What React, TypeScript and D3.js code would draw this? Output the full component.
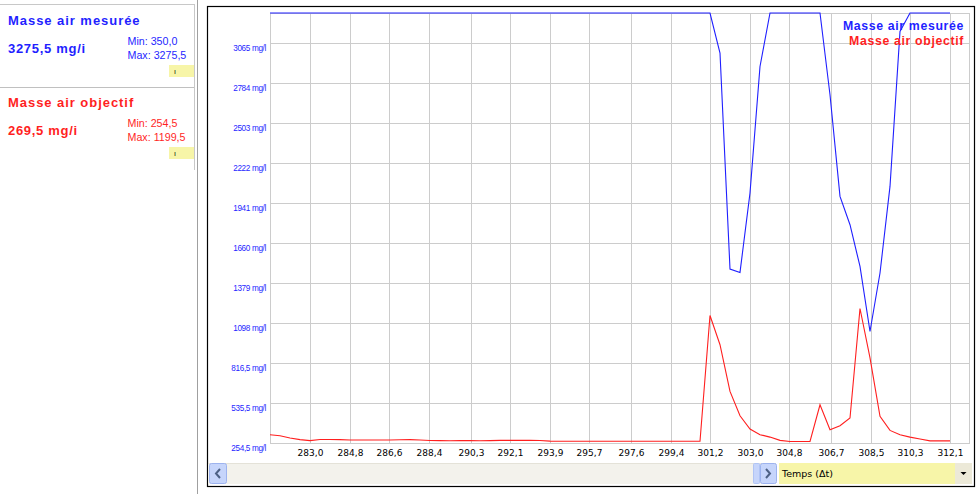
import React from 'react';
import * as d3 from 'd3';

// ---- data ----
const T0 = 281.18; // time of first sample (s)
const DT = 0.4547; // sample interval (s)

const measured = [
  3275.5, 3275.5, 3275.5, 3275.5, 3275.5, 3275.5, 3275.5, 3275.5, 3275.5, 3275.5,
  3275.5, 3275.5, 3275.5, 3275.5, 3275.5, 3275.5, 3275.5, 3275.5, 3275.5, 3275.5,
  3275.5, 3275.5, 3275.5, 3275.5, 3275.5, 3275.5, 3275.5, 3275.5, 3275.5, 3275.5,
  3275.5, 3275.5, 3275.5, 3275.5, 3275.5, 3275.5, 3275.5, 3275.5, 3275.5, 3275.5,
  3275.5, 3275.5, 3275.5, 3275.5, 3275.5, 2994, 1477, 1453, 2011, 2900,
  3275.5, 3275.5, 3275.5, 3275.5, 3275.5, 3275.5, 2701, 1987, 1788, 1495,
  1038, 1449, 2057, 3146, 3275.5, 3275.5, 3275.5, 3275.5, 3275.5,
];

const objective = [
  313, 306, 290, 278, 271, 279, 279, 278, 276, 276,
  276, 276, 276, 277, 278, 276, 272, 271, 270, 272,
  271, 270, 271, 273, 273, 274, 273, 272, 268, 267,
  267, 267, 267, 267, 267, 267, 267, 267, 267, 267,
  267, 267, 267, 267, 1150, 945, 617, 446, 353, 313,
  296, 273, 265, 265, 265, 523, 348, 376, 430, 1199.5,
  852, 442, 343, 313, 296, 283, 269.5, 269.5, 269.5,
];

const xTickValues = [283.0, 284.8, 286.6, 288.4, 290.3, 292.1, 293.9, 295.7, 297.6, 299.4, 301.2, 303.0, 304.8, 306.7, 308.5, 310.3, 312.1];
const xTickLabels = ['283,0', '284,8', '286,6', '288,4', '290,3', '292,1', '293,9', '295,7', '297,6', '299,4', '301,2', '303,0', '304,8', '306,7', '308,5', '310,3', '312,1'];

const yTickValues = [254.5, 535.5, 816.5, 1097.5, 1378.5, 1659.5, 1940.5, 2221.5, 2502.5, 2783.5, 3064.5];
const yTickLabels = ['254,5 mg/l', '535,5 mg/l', '816,5 mg/l', '1098 mg/l', '1379 mg/l', '1660 mg/l', '1941 mg/l', '2222 mg/l', '2503 mg/l', '2784 mg/l', '3065 mg/l'];

const seriesNames = ['Masse air mesurée', 'Masse air objectif'];
const currentValues = ['3275,5 mg/i', '269,5 mg/i'];
const minLabels = ['Min: 350,0', 'Min: 254,5'];
const maxLabels = ['Max: 3275,5', 'Max: 1199,5'];
const seriesColors = ['#1f1fff', '#ff1f1f'];

export default function App() {
  const W = 978;
  const H = 494;
  const plot = { left: 270, right: 969, top: 13, bottom: 443 };
  const x = d3.scaleLinear().domain([T0, T0 + (plot.right - plot.left) * (DT / 10)]).range([plot.left, plot.right]);
  const y = d3.scaleLinear().domain([254.5, 3275.5]).range([plot.bottom, plot.top]);
  const times = measured.map((_, i) => T0 + i * DT);
  const mk = (vals: number[]) =>
    d3.line<number>().x((_, i) => x(times[i])).y((d) => y(d))(vals) || '';

  const grid = '#cccccc';
  const sans = '"Liberation Sans", Arial, sans-serif';
  const dejavu = '"DejaVu Sans", Verdana, sans-serif';

  const panelTops = [0, 82];

  return (
    <svg width={W} height={H} style={{ position: 'absolute', left: 0, top: 0, background: '#fff' }}>
      {/* left panel */}
      <line x1={0} x2={194} y1={4.5} y2={4.5} stroke="#c8c8c8" />
      <line x1={0} x2={194} y1={87.5} y2={87.5} stroke="#c0c0c0" />
      <line x1={194.5} x2={194.5} y1={4} y2={170} stroke="#c8c8c8" />
      <line x1={197.5} x2={197.5} y1={0} y2={H} stroke="#a0a0a0" />
      {seriesNames.map((name, i) => {
        const t = panelTops[i];
        const c = seriesColors[i];
        return (
          <g key={name}>
            <text x={8} y={t + 25} fill={c} fontFamily={sans} fontWeight="bold" fontSize={13} letterSpacing={0.95}>{name}</text>
            <text x={8} y={t + 53} fill={c} fontFamily={sans} fontWeight="bold" fontSize={13} letterSpacing={0.7}>{currentValues[i]}</text>
            <text x={127.5} y={t + 45} fill={c} fontFamily={sans} fontSize={10.7}>{minLabels[i]}</text>
            <text x={127.5} y={t + 58.5} fill={c} fontFamily={sans} fontSize={10.7}>{maxLabels[i]}</text>
            <rect x={169} y={t + 65} width={25} height={12} fill="#f7f5a8" />
            <text x={174} y={t + 74} fill="#000" fontFamily={sans} fontSize={7}>ı</text>
          </g>
        );
      })}

      {/* chart frame */}
      <rect x={207.5} y={6.5} width={767} height={480} fill="#fff" stroke="#000" strokeWidth={1.2} />

      {/* grid */}
      {xTickValues.map((v) => (
        <line key={'vx' + v} x1={Math.round(x(v)) + 0.5} x2={Math.round(x(v)) + 0.5} y1={plot.top} y2={plot.bottom} stroke={grid} />
      ))}
      {yTickValues.map((v) => (
        <line key={'hy' + v} x1={plot.left} x2={plot.right} y1={Math.round(y(v)) + 0.5} y2={Math.round(y(v)) + 0.5} stroke={grid} />
      ))}
      <rect x={plot.left + 0.5} y={plot.top + 0.5} width={plot.right - plot.left} height={plot.bottom - plot.top} fill="none" stroke={grid} />

      {/* y tick labels */}
      {yTickValues.map((v, i) => (
        <text key={'yl' + v} x={266} y={y(v) + 7.5} textAnchor="end" fill="#1f1fff" fontFamily={sans} fontSize={8.2} letterSpacing={-0.35}>{yTickLabels[i]}</text>
      ))}

      {/* x tick labels */}
      {xTickValues.map((v, i) => (
        <text key={'xl' + v} x={Math.round(x(v)) + 0.5} y={455.5} textAnchor="middle" fill="#000" fontFamily={dejavu} fontSize={9}>{xTickLabels[i]}</text>
      ))}

      {/* series */}
      <path d={mk(measured)} fill="none" stroke={seriesColors[0]} strokeWidth={1.1} />
      <path d={mk(objective)} fill="none" stroke={seriesColors[1]} strokeWidth={1.1} />

      {/* legend */}
      {seriesNames.map((name, i) => (
        <text key={'lg' + name} x={964} y={30 + i * 15} textAnchor="end" fill={seriesColors[i]} fontFamily={sans} fontWeight="bold" fontSize={12.3} letterSpacing={0.65}>{name}</text>
      ))}

      {/* scrollbar */}
      <rect x={208} y={463} width={568} height={21} fill="#f3f2ec" />
      <line x1={208} x2={776} y1={463.5} y2={463.5} stroke="#e4e2d8" />
      <rect x={209.5} y={463.5} width={17} height={20} rx={2} fill="#c6d5fb" stroke="#9db3ef" />
      <path d="M 220 469 L 216 473.5 L 220 478" fill="none" stroke="#4d6185" strokeWidth={2} />
      <rect x={753.5} y={463.5} width={6} height={20} rx={1} fill="#c6d5fb" stroke="#b0c4f5" />
      <rect x={760.5} y={463.5} width={16} height={20} rx={2} fill="#c6d5fb" stroke="#9db3ef" />
      <path d="M 766 469 L 770 473.5 L 766 478" fill="none" stroke="#4d6185" strokeWidth={2} />
      <rect x={779} y={463} width={176} height={21} fill="#f7f5a8" />
      <text x={782} y={477} fill="#000" fontFamily={dejavu} fontSize={9.5}>Temps (Δt)</text>
      <rect x={955} y={463} width={17} height={21} fill="#ece9d8" />
      <path d="M 960.5 472 L 966.5 472 L 963.5 475 Z" fill="#000" />
    </svg>
  );
}
